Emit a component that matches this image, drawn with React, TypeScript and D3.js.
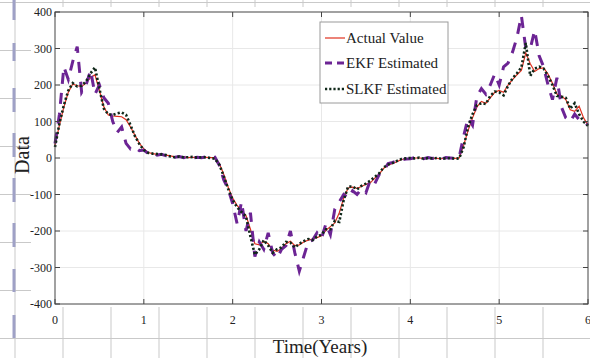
import React from "react";
import * as d3 from "d3";

const T_STEP = 0.05;
const xTicks = [0, 1, 2, 3, 4, 5, 6];
const yTicks = [-400, -300, -200, -100, 0, 100, 200, 300, 400];
const legendLabels = ["Actual Value", "EKF Estimated", "SLKF Estimated"];

const actual = [
  35, 90, 140, 180, 203, 198, 196, 205, 220, 228,
  185, 140, 118, 115, 114, 113, 105, 85, 62, 40,
  25, 15, 12, 10, 9, 8, 6, 3, 2, 3,
  1, 2, 1, 1, 2, 1, 1, -15, -45, -80,
  -110, -130, -145, -158, -195, -235, -238, -228, -235, -252,
  -256, -248, -235, -228, -240, -238, -230, -225, -222, -218,
  -213, -198, -188, -178, -150, -110, -82, -80, -83, -78,
  -72, -68, -55, -44, -28, -20, -15, -10, -4, -2,
  -1, 0, 0, -1, 0, -1, -1, -2, 0, 0,
  -1, 0, 35, 75, 110, 140, 155, 150, 165, 180,
  185, 180, 200, 215, 228, 240, 288, 258, 237, 245,
  247, 230, 205, 175, 170, 160, 132, 128, 142, 110,
  90,
];

const ekf = [
  40, 120, 250, 215, 265, 305, 180, 200, 240, 175,
  200, 165, 150, 100, 70, 85, 40, 25, 30, 20,
  22, 12, 15, 8, 10, 6, 8, 2, 4, 1,
  3, 0, 2, 1, 3, 0, 2, -20, -60, -85,
  -125, -180, -120, -200, -150, -270, -230, -250, -205, -260,
  -275, -250, -240, -200, -260, -310, -270, -230, -225, -205,
  -220, -180, -210, -140, -120, -100, -110, -90, -100, -85,
  -95, -60, -70, -45, -35, -15, -12, -8, -5, -3,
  -2, 1, 0, -2, 1, -1, 0, -3, 1, 0,
  -1, 2, 60, 110, 90, 170, 190, 175, 200, 230,
  200, 250, 260, 290, 330, 390, 300, 300, 350, 280,
  250, 200, 160, 220, 140, 110, 100, 120, 105, 100,
  90,
];

const slkf = [
  30, 95, 145, 185, 205, 196, 198, 210, 232, 248,
  190, 135, 120, 118, 122, 125, 118, 90, 60, 38,
  22, 14, 12, 11, 10, 8, 4, 2, 4, 2,
  2, 3, 1, 2, 2, 0, -2, -18, -50, -85,
  -115, -135, -148, -160, -215, -265, -250, -225, -240, -260,
  -250, -245, -230, -232, -245, -235, -228, -222, -225, -215,
  -210, -195, -195, -172, -175, -115, -78, -78, -86, -76,
  -70, -62, -52, -42, -26, -18, -14, -8, -3, -1,
  0, -1, 1, -2, 0, -1, 0, -2, -1, 0,
  -2, -1, 30, 85, 120, 145, 150, 148, 170, 182,
  180, 172, 198, 218, 232, 248, 315, 225, 245, 250,
  245, 225, 200, 170, 168, 165, 135, 150, 120, 100,
  88,
];

const W = 590;
const H = 358;
const PL = 55, PR = 588, PT = 12, PB = 304;
const FONT = "'Liberation Serif', 'Times New Roman', serif";

const RED = "#e0301e";
const PURPLE = "#6c2494";
const DARK = "#10281a";

export default function App() {
  const x = d3.scaleLinear().domain([0, 6]).range([PL, PR]);
  const y = d3.scaleLinear().domain([-400, 400]).range([PB, PT]);
  const line = d3
    .line<number>()
    .x((_, i) => x(i * T_STEP))
    .y((d) => y(d));

  const pageV = d3.range(15, 600, 48);
  const pageH = d3.range(2.5, 360, 48);
  const blueMarks = [
    [0, 20], [43, 61], [88, 112], [133, 157], [178, 202], [223, 247], [269, 292], [315, 338],
  ];

  const lx = 320, ly = 22, lw = 128, lh = 81;
  const legendY = [38, 63, 89];
  const styles = [
    { stroke: RED, width: 1.2, dash: undefined },
    { stroke: PURPLE, width: 3, dash: "7,5" },
    { stroke: DARK, width: 2.6, dash: "2.2,2" },
  ];

  return (
    <div style={{ position: "absolute", left: 0, top: 0 }}>
      <svg width={W} height={H} style={{ display: "block", background: "#fff" }}>
        {/* page grid */}
        {pageV.map((v) => (
          <line key={"pv" + v} x1={v} x2={v} y1={0} y2={H} stroke="#c9c9c9" strokeWidth={1} />
        ))}
        {pageH.map((v) => (
          <line key={"ph" + v} x1={0} x2={W} y1={v} y2={v} stroke="#c9c9c9" strokeWidth={1} />
        ))}
        <rect x={31} y={7} width={W - 31} height={300} fill="#fff" />
        {blueMarks.map(([a, b], i) => (
          <line key={"bm" + i} x1={14} x2={14} y1={a} y2={b} stroke="#9fa1c6" strokeWidth={3} />
        ))}

        {/* plot grid */}
        {xTicks.slice(1, -1).map((t) => (
          <line key={"gx" + t} x1={x(t)} x2={x(t)} y1={PT} y2={PB} stroke="#e8e8e8" strokeWidth={1} />
        ))}
        {yTicks.slice(1, -1).map((t) => (
          <line key={"gy" + t} x1={PL} x2={PR} y1={y(t)} y2={y(t)} stroke="#e8e8e8" strokeWidth={1} />
        ))}

        {/* series */}
        <path d={line(actual) || ""} fill="none" stroke={RED} strokeWidth={1.2} />
        <path d={line(ekf) || ""} fill="none" stroke={PURPLE} strokeWidth={3} strokeDasharray="11,9" />
        <path d={line(slkf) || ""} fill="none" stroke={DARK} strokeWidth={2.6} strokeDasharray="2.2,2.2" />

        {/* frame */}
        <rect x={PL} y={PT} width={PR - PL} height={PB - PT} fill="none" stroke="#444" strokeWidth={1} />
        {xTicks.map((t) => (
          <g key={"xt" + t}>
            <line x1={x(t)} x2={x(t)} y1={PB} y2={PB - 5} stroke="#444" />
            <line x1={x(t)} x2={x(t)} y1={PT} y2={PT + 5} stroke="#444" />
            <text x={x(t)} y={324} textAnchor="middle" fontFamily={FONT} fontSize={12} fill="#222">
              {t}
            </text>
          </g>
        ))}
        {yTicks.map((t) => (
          <g key={"yt" + t}>
            <line x1={PL} x2={PL + 5} y1={y(t)} y2={y(t)} stroke="#444" />
            <line x1={PR} x2={PR - 5} y1={y(t)} y2={y(t)} stroke="#444" />
            <text x={52} y={y(t) + 4} textAnchor="end" fontFamily={FONT} fontSize={12} fill="#222">
              {t}
            </text>
          </g>
        ))}

        {/* axis labels */}
        <text x={320} y={353} textAnchor="middle" fontFamily={FONT} fontSize={19} fill="#222">
          Time(Years)
        </text>
        <text
          transform={`translate(29,155) rotate(-90)`}
          textAnchor="middle"
          fontFamily={FONT}
          fontSize={20}
          fill="#222"
        >
          Data
        </text>

        {/* legend */}
        <rect x={lx} y={ly} width={lw} height={lh} fill="#fff" stroke="#9a9a9a" strokeWidth={1} />
        {legendLabels.map((lab, i) => (
          <g key={lab}>
            <line
              x1={lx + 5}
              x2={lx + 25}
              y1={legendY[i]}
              y2={legendY[i]}
              stroke={styles[i].stroke}
              strokeWidth={styles[i].width}
              strokeDasharray={styles[i].dash}
            />
            <text x={lx + 26} y={legendY[i] + 5} fontFamily={FONT} fontSize={15} fill="#222">
              {lab}
            </text>
          </g>
        ))}
      </svg>
    </div>
  );
}
